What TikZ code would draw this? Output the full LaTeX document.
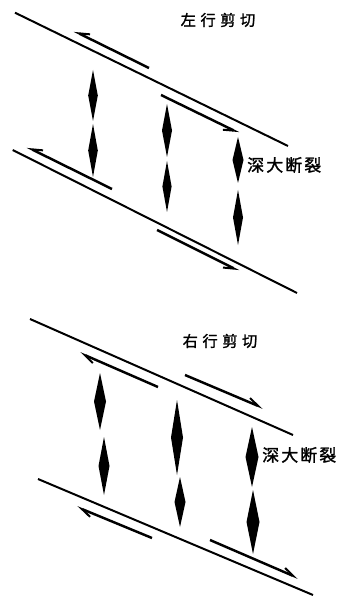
\documentclass[tikz,border=0pt]{standalone}
\usepackage{fontspec}
\newfontfamily\cjk[LetterSpace=30,FakeBold=1.5]{Noto Sans CJK SC}
\newfontfamily\cjkb[LetterSpace=12,FakeBold=1.5]{Noto Sans CJK SC}
\usetikzlibrary{arrows.meta}
\newcommand\kite[4]{\fill (#1,#2) -- ({#1-#4},{(#2+#3)/2}) -- (#1,#3) -- ({#1+#4},{(#2+#3)/2}) -- cycle;}
\begin{document}
\begin{tikzpicture}[x=0.03cm,y=-0.03cm,
  fault/.style={line width=1.7pt},
  slip/.style={line width=2.1pt,-{Straight Barb[harpoon,length=9pt,width=7pt,line width=1.7pt]}},
  slipsw/.style={line width=2.1pt,-{Straight Barb[harpoon,swap,length=9pt,width=7pt,line width=1.7pt]}},
  title/.style={font=\cjk\fontsize{13pt}{15pt}\selectfont, inner sep=0pt},
  lab/.style={font=\cjkb\fontsize{14.5pt}{16pt}\selectfont, inner sep=0pt, anchor=west}]
\useasboundingbox (0,0) rectangle (342,600);
% ---------- top panel: left-lateral
\coordinate (u1a) at (15,12.7); \coordinate (u1b) at (288,146);
\coordinate (l1a) at (12.7,150); \coordinate (l1b) at (297,293);
\draw[fault] (u1a) -- (u1b);
\draw[fault] (l1a) -- (l1b);
\node[title] (t1) at (218,20) {左行剪切};
\node[lab] (d1) at (247,165) {深大断裂};
\coordinate (a1s) at (149,68); \coordinate (a1e) at (74,31);
\coordinate (a2s) at (161,95); \coordinate (a2e) at (239,133);
\coordinate (a3s) at (112,189); \coordinate (a3e) at (27,147);
\coordinate (a4s) at (157,230); \coordinate (a4e) at (239,271);
\draw[slipsw] (a1s) -- (a1e);
\draw[slipsw] (a2s) -- (a2e);
\draw[slipsw] (a3s) -- (a3e);
\draw[slipsw] (a4s) -- (a4e);
\kite{93}{70}{121}{4.8}
\kite{93}{124}{177}{4.8}
\kite{167}{104}{157}{5}
\kite{167}{161}{212}{4.6}
\kite{238}{137}{183}{5.5}
\kite{238}{190}{245}{5}
% ---------- bottom panel: right-lateral
\coordinate (u2a) at (30,319); \coordinate (u2b) at (293,435);
\coordinate (l2a) at (38,479); \coordinate (l2b) at (313,595);
\draw[fault] (u2a) -- (u2b);
\draw[fault] (l2a) -- (l2b);
\node[title] (t2) at (220,341) {右行剪切};
\node[lab] (d2) at (262,455) {深大断裂};
\coordinate (b1s) at (158,387); \coordinate (b1e) at (80,353);
\coordinate (b2s) at (185,375); \coordinate (b2e) at (263,408);
\coordinate (b3s) at (152,538); \coordinate (b3e) at (77,507);
\coordinate (b4s) at (210,540); \coordinate (b4e) at (298,578);
\draw[slip] (b1s) -- (b1e);
\draw[slip] (b2s) -- (b2e);
\draw[slip] (b3s) -- (b3e);
\draw[slip] (b4s) -- (b4e);
\kite{100}{373}{430}{6}
\kite{104}{437}{495}{5.5}
\kite{177}{400}{475}{6}
\kite{180}{477}{527}{5.5}
\kite{252}{427}{487}{6.5}
\kite{253}{490}{554}{6.5}
\end{tikzpicture}
\end{document}
